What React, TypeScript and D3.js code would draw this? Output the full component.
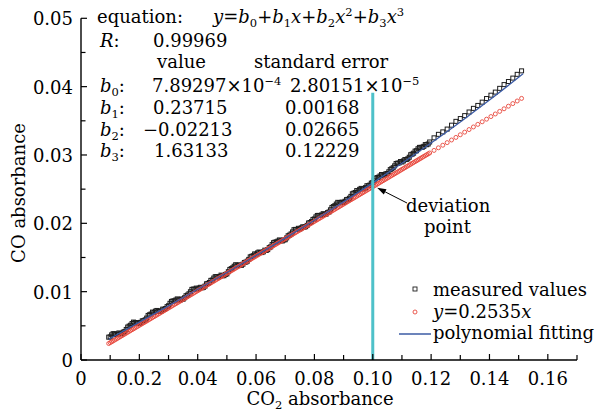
import React from "react";
import * as d3 from "d3";

// ---------- data ----------
// measured values (CO2 absorbance, CO absorbance) and y = 0.2535x reference points
const xs = [0.0095,0.0105,0.0115,0.0125,0.0135,0.0145,0.0155,0.0165,0.0175,0.0185,0.0195,0.0205,0.0215,0.0225,0.0235,0.0245,0.0255,0.0265,0.0275,0.0285,0.0295,0.0305,0.0315,0.0325,0.0335,0.0345,0.0355,0.0365,0.0375,0.0385,0.0395,0.0405,0.0415,0.0425,0.0435,0.0445,0.0455,0.0465,0.0475,0.0485,0.0495,0.0505,0.0515,0.0525,0.0535,0.0545,0.0555,0.0565,0.0575,0.0585,0.0595,0.0605,0.0615,0.0625,0.0635,0.0645,0.0655,0.0665,0.0675,0.0685,0.0695,0.0705,0.0715,0.0725,0.0735,0.0745,0.0755,0.0765,0.0775,0.0785,0.0795,0.0805,0.0815,0.0825,0.0835,0.0845,0.0855,0.0865,0.0875,0.0885,0.0895,0.0905,0.0915,0.0925,0.0935,0.0945,0.0955,0.0965,0.0975,0.0985,0.0995,0.1005,0.1015,0.1025,0.1035,0.1045,0.1055,0.1065,0.1075,0.1085,0.1095,0.1105,0.1115,0.1125,0.1135,0.1145,0.1155,0.1165,0.1175,0.1185,0.1195,0.121,0.1225,0.124,0.1255,0.127,0.1285,0.130,0.1315,0.133,0.1345,0.136,0.1375,0.139,0.1405,0.142,0.1435,0.145,0.1465,0.148,0.1495,0.151];

const measured = [0.00334,0.00368,0.00382,0.00380,0.00384,0.00408,0.00447,0.00496,0.00534,0.00548,0.00547,0.00551,0.00575,0.00613,0.00662,0.00701,0.00715,0.00714,0.00718,0.00742,0.00781,0.00830,0.00864,0.00878,0.00882,0.00892,0.00911,0.00950,0.00999,0.01038,0.01052,0.01052,0.01056,0.01081,0.01120,0.01165,0.01199,0.01219,0.01223,0.01233,0.01252,0.01292,0.01337,0.01372,0.01387,0.01392,0.01402,0.01432,0.01472,0.01517,0.01552,0.01567,0.01572,0.01583,0.01603,0.01644,0.01689,0.01725,0.01740,0.01746,0.01756,0.01787,0.01828,0.01874,0.01911,0.01927,0.01933,0.01944,0.01970,0.02011,0.02057,0.02094,0.02116,0.02123,0.02130,0.02157,0.02198,0.02245,0.02282,0.02304,0.02311,0.02323,0.02351,0.02394,0.02441,0.02479,0.02497,0.02504,0.02522,0.02550,0.02588,0.02631,0.02669,0.02693,0.02707,0.02725,0.02754,0.02798,0.02841,0.02880,0.02904,0.02913,0.02933,0.02967,0.03012,0.03057,0.03091,0.03111,0.03126,0.03150,0.03190,0.03251,0.03302,0.03338,0.03379,0.03436,0.03492,0.03533,0.03576,0.03629,0.03682,0.03725,0.03773,0.03826,0.03875,0.03920,0.03975,0.04030,0.04075,0.04125,0.04180,0.04231];

const linearY = [0.00241,0.00266,0.00292,0.00317,0.00342,0.00368,0.00393,0.00418,0.00444,0.00469,0.00494,0.00520,0.00545,0.00570,0.00596,0.00621,0.00646,0.00672,0.00697,0.00722,0.00748,0.00773,0.00799,0.00824,0.00849,0.00875,0.00900,0.00925,0.00951,0.00976,0.01001,0.01027,0.01052,0.01077,0.01103,0.01128,0.01153,0.01179,0.01204,0.01229,0.01255,0.01280,0.01306,0.01331,0.01356,0.01382,0.01407,0.01432,0.01458,0.01483,0.01508,0.01534,0.01559,0.01584,0.01610,0.01635,0.01660,0.01686,0.01711,0.01736,0.01762,0.01787,0.01813,0.01838,0.01863,0.01889,0.01914,0.01939,0.01965,0.01990,0.02015,0.02041,0.02066,0.02091,0.02117,0.02142,0.02167,0.02193,0.02218,0.02243,0.02269,0.02294,0.02320,0.02345,0.02370,0.02396,0.02421,0.02446,0.02472,0.02497,0.02522,0.02548,0.02573,0.02598,0.02624,0.02649,0.02674,0.02700,0.02725,0.02750,0.02776,0.02801,0.02827,0.02852,0.02877,0.02903,0.02928,0.02953,0.02979,0.03004,0.03029,0.03067,0.03105,0.03143,0.03181,0.03219,0.03257,0.03296,0.03334,0.03372,0.03410,0.03448,0.03486,0.03524,0.03562,0.03600,0.03638,0.03676,0.03714,0.03752,0.03790,0.03828];

// second, interleaved batch of samples (dense lower range)
const xs2 = [0.010,0.011,0.012,0.013,0.014,0.015,0.016,0.017,0.018,0.019,0.020,0.021,0.022,0.023,0.024,0.025,0.026,0.027,0.028,0.029,0.030,0.031,0.032,0.033,0.034,0.035,0.036,0.037,0.038,0.039,0.040,0.041,0.042,0.043,0.044,0.045,0.046,0.047,0.048,0.049,0.050,0.051,0.052,0.053,0.054,0.055,0.056,0.057,0.058,0.059,0.060,0.061,0.062,0.063,0.064,0.065,0.066,0.067,0.068,0.069,0.070,0.071,0.072,0.073,0.074,0.075,0.076,0.077,0.078,0.079,0.080,0.081,0.082,0.083,0.084,0.085,0.086,0.087,0.088,0.089,0.090,0.091,0.092,0.093,0.094,0.095,0.096,0.097,0.098,0.099,0.100,0.101,0.102,0.103,0.104,0.105,0.106,0.107,0.108,0.109,0.110,0.111,0.112,0.113,0.114,0.115,0.116,0.117,0.118,0.119];

const measured2 = [0.00339,0.00385,0.00375,0.00396,0.00387,0.00416,0.00482,0.00509,0.00555,0.00539,0.00537,0.00573,0.00588,0.00652,0.00673,0.00696,0.00725,0.00710,0.00744,0.00753,0.00794,0.00857,0.00865,0.00894,0.00878,0.00890,0.00941,0.00969,0.01033,0.01036,0.01040,0.01064,0.01063,0.01115,0.01134,0.01170,0.01219,0.01215,0.01242,0.01234,0.01260,0.01325,0.01349,0.01394,0.01381,0.01385,0.01427,0.01446,0.01509,0.01526,0.01548,0.01580,0.01572,0.01607,0.01615,0.01655,0.01717,0.01727,0.01757,0.01742,0.01760,0.01818,0.01845,0.01907,0.01910,0.01918,0.01949,0.01951,0.02005,0.02025,0.02064,0.02115,0.02114,0.02141,0.02135,0.02166,0.02232,0.02258,0.02307,0.02299,0.02305,0.02347,0.02367,0.02432,0.02451,0.02476,0.02511,0.02507,0.02550,0.02560,0.02598,0.02660,0.02675,0.02714,0.02707,0.02728,0.02786,0.02814,0.02875,0.02883,0.02897,0.02933,0.02944,0.03004,0.03026,0.03062,0.03111,0.03113,0.03152,0.03161];

const linearY2 = [0.00254,0.00279,0.00304,0.00330,0.00355,0.00380,0.00406,0.00431,0.00456,0.00482,0.00507,0.00532,0.00558,0.00583,0.00608,0.00634,0.00659,0.00684,0.00710,0.00735,0.00761,0.00786,0.00811,0.00837,0.00862,0.00887,0.00913,0.00938,0.00963,0.00989,0.01014,0.01039,0.01065,0.01090,0.01115,0.01141,0.01166,0.01191,0.01217,0.01242,0.01268,0.01293,0.01318,0.01344,0.01369,0.01394,0.01420,0.01445,0.01470,0.01496,0.01521,0.01546,0.01572,0.01597,0.01622,0.01648,0.01673,0.01698,0.01724,0.01749,0.01775,0.01800,0.01825,0.01851,0.01876,0.01901,0.01927,0.01952,0.01977,0.02003,0.02028,0.02053,0.02079,0.02104,0.02129,0.02155,0.02180,0.02205,0.02231,0.02256,0.02282,0.02307,0.02332,0.02358,0.02383,0.02408,0.02434,0.02459,0.02484,0.02510,0.02535,0.02560,0.02586,0.02611,0.02636,0.02662,0.02687,0.02712,0.02738,0.02763,0.02789,0.02814,0.02839,0.02865,0.02890,0.02915,0.02941,0.02966,0.02991,0.03017];

// polynomial fitting curve
const fitX = [0.0095,0.02,0.03,0.04,0.05,0.06,0.07,0.08,0.09,0.10,0.11,0.12,0.13,0.14,0.15,0.1515];
const fitY = [0.00304,0.005536,0.007928,0.010344,0.012795,0.015291,0.017841,0.020455,0.023143,0.025914,0.028779,0.031748,0.034829,0.038033,0.041369,0.04188];

const xTickVals = [0, 0.02, 0.04, 0.06, 0.08, 0.10, 0.12, 0.14, 0.16];
const xTickLabels = ["0", "0.0.2", "0.04", "0.06", "0.08", "0.10", "0.12", "0.14", "0.16"];
const yTickVals = [0, 0.01, 0.02, 0.03, 0.04, 0.05];
const yTickLabels = ["0", "0.01", "0.02", "0.03", "0.04", "0.05"];
const xMinorVals = [0.01, 0.03, 0.05, 0.07, 0.09, 0.11, 0.13, 0.15, 0.17];
const yMinorVals = [0.005, 0.015, 0.025, 0.035, 0.045];

const deviationX = 0.1;

const W = 598;
const H = 414;
const FONT = "'DejaVu Serif', serif";
const FS = 18;
const SUB = 11.5;

const BLACK = "#1e1e1e";
const RED = "#e8473c";
const BLUE = "#3b5ba5";
const CYAN = "#4ec1c9";

export default function App() {
  const x = d3.scaleLinear().domain([0, 0.17]).range([81, 577]);
  const y = d3.scaleLinear().domain([0, 0.05]).range([360, 18.3]);
  const x0 = x(0);
  const y0 = y(0);

  const fitPath = d3
    .line<number>()
    .x((d, i) => x(fitX[i]))
    .y((d) => y(d))
    .curve(d3.curveMonotoneX)(fitY) as string;

  const sq = 4;

  const measuredPts = [
    ...xs.map((xv, i) => [xv, measured[i]]),
    ...xs2.map((xv, i) => [xv, measured2[i]]),
  ];
  const linearPts = [
    ...xs.map((xv, i) => [xv, linearY[i]]),
    ...xs2.map((xv, i) => [xv, linearY2[i]]),
  ];

  // arrow geometry
  const tip: [number, number] = [x(0.1015), y(0.0252)];
  const tail: [number, number] = [407, 203];
  const dx = tail[0] - tip[0];
  const dy = tail[1] - tip[1];
  const len = Math.hypot(dx, dy);
  const ux = dx / len, uy = dy / len;
  const bx = tip[0] + ux * 9, by = tip[1] + uy * 9;
  const px = -uy, py = ux;
  const head = `${tip[0]},${tip[1]} ${bx + px * 3},${by + py * 3} ${bx - px * 3},${by - py * 3}`;

  const it = { fontStyle: "italic" as const };

  const bLabel = (n: string, yy: number) => (
    <text x={100} y={yy}>
      <tspan {...it}>b</tspan>
      <tspan fontSize={SUB} dy={4}>{n}</tspan>
      <tspan dy={-4}>:</tspan>
    </text>
  );

  return (
    <svg
      width={W}
      height={H}
      style={{ position: "absolute", left: 0, top: 0, background: "#fff" }}
      fontFamily={FONT}
      fontSize={FS}
    >
      <rect x={0} y={0} width={W} height={H} fill="#fff" />

      {/* measured values */}
      <g fill="none" stroke={BLACK} strokeWidth={1}>
        {measuredPts.map((p, i) => (
          <rect key={i} x={x(p[0]) - sq / 2} y={y(p[1]) - sq / 2} width={sq} height={sq} />
        ))}
      </g>
      {/* linear y = 0.2535x */}
      <g fill="none" stroke={RED} strokeWidth={0.9}>
        {linearPts.map((p, i) => (
          <circle key={i} cx={x(p[0])} cy={y(p[1])} r={2} />
        ))}
      </g>
      {/* polynomial fit */}
      <path d={fitPath} fill="none" stroke={BLUE} strokeWidth={1.3} />

      {/* deviation line */}
      <line x1={x(deviationX)} x2={x(deviationX)} y1={y0} y2={y(0.0391)} stroke={CYAN} strokeWidth={3} />

      {/* axes */}
      <line x1={x0} x2={x0} y1={y0} y2={y(0.05)} stroke="#000" strokeWidth={1.4} />
      <line x1={x0} x2={x(0.17)} y1={y0} y2={y0} stroke="#000" strokeWidth={1.4} />
      {xTickVals.map((v) => (
        <line key={"xt" + v} x1={x(v)} x2={x(v)} y1={y0} y2={y0 - 6} stroke="#000" strokeWidth={1.2} />
      ))}
      {xMinorVals.map((v) => (
        <line key={"xm" + v} x1={x(v)} x2={x(v)} y1={y0} y2={y0 - 5} stroke="#000" strokeWidth={1.2} />
      ))}
      {yTickVals.map((v) => (
        <line key={"yt" + v} x1={x0} x2={x0 + 6} y1={y(v)} y2={y(v)} stroke="#000" strokeWidth={1.2} />
      ))}
      {yMinorVals.map((v) => (
        <line key={"ym" + v} x1={x0} x2={x0 + 4.5} y1={y(v)} y2={y(v)} stroke="#000" strokeWidth={1.2} />
      ))}
      {xTickVals.map((v, i) => (
        <text key={"xl" + v} x={x(v)} y={385} textAnchor="middle">{xTickLabels[i]}</text>
      ))}
      {yTickVals.map((v, i) => (
        <text key={"yl" + v} x={73} y={y(v) + 7} textAnchor="end">{yTickLabels[i]}</text>
      ))}

      {/* axis titles */}
      <text x={320} y={405} textAnchor="middle">
        CO<tspan fontSize={SUB} dy={4}>2</tspan><tspan dy={-4}> absorbance</tspan>
      </text>
      <text transform={`translate(25,193) rotate(-90)`} textAnchor="middle">CO absorbance</text>

      {/* equation block */}
      <text x={97} y={23}>equation:</text>
      <text x={213} y={23}>
        <tspan {...it}>y</tspan>=<tspan {...it}>b</tspan>
        <tspan fontSize={SUB} dy={4}>0</tspan>
        <tspan dy={-4}>+</tspan><tspan {...it}>b</tspan>
        <tspan fontSize={SUB} dy={4}>1</tspan>
        <tspan dy={-4} {...it}>x</tspan>
        <tspan>+</tspan><tspan {...it}>b</tspan>
        <tspan fontSize={SUB} dy={4}>2</tspan>
        <tspan dy={-4} {...it}>x</tspan>
        <tspan fontSize={SUB} dy={-7}>2</tspan>
        <tspan dy={7}>+</tspan><tspan {...it}>b</tspan>
        <tspan fontSize={SUB} dy={4}>3</tspan>
        <tspan dy={-4} {...it}>x</tspan>
        <tspan fontSize={SUB} dy={-7}>3</tspan>
      </text>
      <text x={100} y={47}><tspan {...it}>R</tspan>:</text>
      <text x={153} y={47}>0.99969</text>
      <text x={157} y={68}>value</text>
      <text x={254} y={68}>standard error</text>

      {bLabel("0", 92)}
      <text x={152} y={92}>
        7.89297×10<tspan fontSize={SUB} dy={-7}>−4</tspan>
      </text>
      <text x={290} y={92}>
        2.80151×10<tspan fontSize={SUB} dy={-7}>−5</tspan>
      </text>
      {bLabel("1", 114)}
      <text x={153} y={114}>0.23715</text>
      <text x={285} y={114}>0.00168</text>
      {bLabel("2", 136)}
      <text x={143} y={136}>−0.02213</text>
      <text x={285} y={136}>0.02665</text>
      {bLabel("3", 157)}
      <text x={154} y={157}>1.63133</text>
      <text x={285} y={157}>0.12229</text>

      {/* deviation annotation */}
      <line x1={tail[0]} y1={tail[1]} x2={bx} y2={by} stroke="#000" strokeWidth={1} />
      <polygon points={head} fill="#000" />
      <text x={406} y={212}>deviation</text>
      <text x={424} y={233}>point</text>

      {/* legend */}
      <rect x={415 - 2} y={289 - 2} width={4} height={4} fill="none" stroke={BLACK} strokeWidth={0.9} />
      <text x={433} y={296}>measured values</text>
      <circle cx={415} cy={312} r={2} fill="none" stroke={RED} strokeWidth={0.9} />
      <text x={433} y={318}>
        <tspan {...it}>y</tspan>=0.2535<tspan {...it}>x</tspan>
      </text>
      <line x1={399} x2={431} y1={334} y2={334} stroke={BLUE} strokeWidth={1.5} />
      <text x={433} y={339}>polynomial fitting</text>
    </svg>
  );
}
